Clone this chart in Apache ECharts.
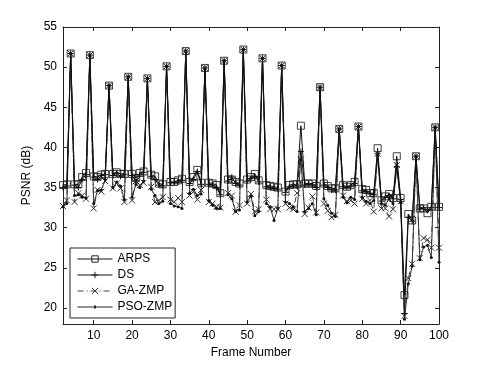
<!DOCTYPE html>
<html>
<head>
<meta charset="utf-8">
<script src="https://cdn.jsdelivr.net/npm/echarts@6/dist/echarts.min.js"></script>
<style>
  html, body { margin: 0; padding: 0; background: #fff; }
  #chart { width: 485px; height: 365px; }
</style>
</head>
<body>
<div id="chart"></div>
<script>
// frame numbers
const frames = [2, 3, 4, 5, 6, 7, 8, 9, 10, 11, 12, 13, 14, 15, 16, 17, 18, 19, 20,
  21, 22, 23, 24, 25, 26, 27, 28, 29, 30, 31, 32, 33, 34, 35, 36, 37, 38, 39, 40,
  41, 42, 43, 44, 45, 46, 47, 48, 49, 50, 51, 52, 53, 54, 55, 56, 57, 58, 59, 60,
  61, 62, 63, 64, 65, 66, 67, 68, 69, 70, 71, 72, 73, 74, 75, 76, 77, 78, 79, 80,
  81, 82, 83, 84, 85, 86, 87, 88, 89, 90, 91, 92, 93, 94, 95, 96, 97, 98, 99, 100]

const arps = [35.3, 35.4, 51.7, 35.4, 35.4, 36.3, 36.8, 51.5, 36.4, 36.3, 36.6, 36.7, 47.7, 36.7, 36.9, 36.7, 36.7, 48.8, 36.7,
  36.2, 36.8, 37.0, 48.6, 36.6, 36.4, 35.5, 35.4, 50.1, 35.7, 35.7, 35.9, 36.1, 52.0, 35.7, 36.3, 37.2, 35.6, 49.9, 35.6,
  35.5, 35.3, 34.3, 50.8, 36.0, 36.0, 35.7, 35.5, 52.2, 36.0, 36.3, 36.7, 35.9, 51.1, 35.3, 35.2, 35.1, 35.0, 50.2, 34.5,
  35.3, 35.4, 35.4, 42.7, 35.5, 35.5, 35.5, 35.2, 47.5, 35.5, 35.2, 34.9, 34.9, 42.3, 35.3, 35.1, 35.3, 35.7, 42.6, 34.8,
  34.7, 34.3, 34.3, 39.9, 33.4, 33.9, 34.2, 33.7, 38.9, 33.7, 21.6, 31.7, 30.9, 38.9, 32.4, 32.4, 31.8, 32.6, 42.5, 32.6]

const ds = [35.0, 35.2, 51.7, 35.3, 35.0, 36.0, 36.6, 51.5, 36.3, 36.0, 36.5, 36.6, 47.7, 36.5, 36.8, 36.4, 36.6, 48.8, 36.5,
  35.9, 36.6, 36.9, 48.6, 36.4, 36.0, 35.3, 35.2, 50.1, 35.6, 35.6, 35.7, 35.9, 52.0, 35.5, 36.0, 37.0, 35.4, 49.9, 35.4,
  35.3, 35.0, 34.1, 50.8, 35.8, 36.3, 35.5, 35.3, 52.2, 35.8, 36.1, 36.4, 35.7, 51.1, 35.1, 35.0, 34.9, 34.8, 50.2, 34.4,
  35.1, 35.2, 35.2, 39.5, 35.3, 35.4, 35.3, 35.0, 47.5, 35.3, 35.0, 34.7, 34.7, 42.3, 35.1, 35.0, 35.1, 35.5, 42.6, 34.6,
  34.5, 34.2, 34.1, 39.2, 33.3, 33.8, 34.0, 33.6, 37.6, 33.5, 19.3, 31.3, 30.8, 38.9, 32.3, 32.5, 32.2, 32.5, 42.5, 32.5]

const gaZmp = [32.7, 33.4, 51.7, 33.2, 34.3, 34.0, 33.6, 51.5, 32.4, 34.7, 34.5, 35.8, 47.7, 34.9, 35.5, 34.9, 33.2, 48.8, 33.4,
  35.8, 35.3, 35.6, 48.6, 35.1, 33.2, 33.4, 33.8, 50.1, 33.5, 33.2, 33.7, 33.2, 52.0, 34.0, 34.5, 33.5, 34.7, 49.9, 33.2,
  33.0, 32.6, 32.5, 50.8, 34.3, 34.0, 32.0, 32.8, 52.2, 33.0, 34.2, 32.0, 32.3, 51.1, 33.5, 32.3, 32.3, 32.3, 50.2, 33.0,
  32.5, 32.3, 34.3, 38.5, 31.7, 32.5, 33.9, 31.9, 47.5, 33.0, 32.1, 31.3, 31.6, 42.3, 34.0, 33.3, 33.4, 33.0, 42.6, 33.6,
  33.0, 33.4, 32.0, 39.2, 32.4, 32.4, 31.4, 32.3, 37.8, 33.3, 19.0, 23.7, 25.5, 38.9, 26.2, 28.7, 28.5, 27.5, 42.5, 27.5]

const psoZmp = [32.6, 33.0, 51.7, 34.0, 34.1, 33.8, 33.7, 51.5, 33.0, 34.6, 34.7, 36.0, 47.7, 35.0, 35.7, 35.2, 33.5, 48.8, 33.8,
  35.4, 35.0, 35.8, 48.6, 34.8, 34.0, 33.0, 33.3, 50.1, 33.0, 32.7, 32.6, 32.4, 52.0, 34.3, 34.8, 34.0, 34.2, 49.9, 33.4,
  32.8, 32.4, 32.4, 50.8, 34.1, 33.6, 32.0, 32.2, 52.2, 33.2, 33.9, 31.5, 32.0, 51.1, 33.0, 32.6, 30.9, 32.4, 50.2, 33.2,
  33.0, 32.6, 32.0, 38.5, 32.0, 32.4, 33.0, 31.6, 47.5, 33.6, 32.8, 31.8, 31.4, 42.3, 33.8, 33.1, 33.8, 33.5, 42.6, 33.8,
  33.3, 33.0, 33.4, 39.0, 33.0, 32.8, 33.6, 33.0, 37.6, 33.1, 18.6, 23.0, 25.2, 38.9, 26.0, 27.6, 27.8, 26.3, 42.5, 25.7]

const xTicks = [10, 20, 30, 40, 50, 60, 70, 80, 90, 100]
const yTicks = [20, 25, 30, 35, 40, 45, 50, 55]

const FONT = 'Liberation Sans'

function pairs(ys) {
  return frames.map((f, i) => [f, ys[i]])
}

const chart = echarts.init(document.getElementById('chart'), null, { renderer: 'canvas' })

const axisLine = { show: true, lineStyle: { color: '#222', width: 1 } }

// legend icon for PSO-ZMP: thin line with a small dot
const psoIcon = 'path://M0,3.5L35,3.5L35,4.5L0,4.5Z M16.5,2.5L18.5,2.5L18.5,5.5L16.5,5.5Z'

chart.setOption({
  animation: false,
  backgroundColor: '#fff',
  grid: { left: 63, right: 46, top: 27, bottom: 41 },
  legend: {
    orient: 'vertical',
    left: 70,
    top: 248,
    padding: [5, 3, 5, 7],
    itemGap: 4,
    itemWidth: 35,
    itemHeight: 8,
    backgroundColor: '#fff',
    borderColor: '#222',
    borderWidth: 1,
    lineStyle: { width: 1 },
    itemStyle: { borderWidth: 0.9 },
    textStyle: { fontFamily: FONT, fontSize: 12, color: '#000' },
    data: ['ARPS', 'DS', 'GA-ZMP',
      { name: 'PSO-ZMP', icon: psoIcon, itemStyle: { color: '#222', borderWidth: 0 } }]
  },
  xAxis: [{
    type: 'value',
    min: 2,
    max: 100,
    name: 'Frame Number',
    nameLocation: 'middle',
    nameGap: 19,
    nameTextStyle: { fontFamily: FONT, fontSize: 12, color: '#000' },
    axisLine: axisLine,
    axisTick: { show: true, inside: true, length: 4, customValues: xTicks, lineStyle: { color: '#222' } },
    axisLabel: { customValues: xTicks, fontFamily: FONT, fontSize: 12, color: '#000', margin: 6 },
    splitLine: { show: false }
  }, {
    type: 'value',
    position: 'top',
    min: 2,
    max: 100,
    axisLine: axisLine,
    axisTick: { show: true, inside: true, length: 4, customValues: xTicks, lineStyle: { color: '#222' } },
    axisLabel: { show: false },
    splitLine: { show: false }
  }],
  yAxis: [{
    type: 'value',
    min: 18,
    max: 55,
    name: 'PSNR (dB)',
    nameLocation: 'middle',
    nameGap: 24,
    nameTextStyle: { fontFamily: FONT, fontSize: 12, color: '#000' },
    axisLine: axisLine,
    axisTick: { show: true, inside: true, length: 4, customValues: yTicks, lineStyle: { color: '#222' } },
    axisLabel: { customValues: yTicks, fontFamily: FONT, fontSize: 12, color: '#000', margin: 6 },
    splitLine: { show: false }
  }, {
    type: 'value',
    position: 'right',
    min: 18,
    max: 55,
    axisLine: axisLine,
    axisTick: { show: true, inside: true, length: 4, customValues: yTicks, lineStyle: { color: '#222' } },
    axisLabel: { show: false },
    splitLine: { show: false }
  }],
  series: [{
    name: 'ARPS',
    type: 'line',
    data: pairs(arps),
    symbol: 'rect',
    symbolSize: 7,
    showAllSymbol: true,
    lineStyle: { color: '#111', width: 1 },
    itemStyle: { color: 'rgba(255,255,255,0)', borderColor: '#111', borderWidth: 0.8 },
    z: 4
  }, {
    name: 'DS',
    type: 'line',
    data: pairs(ds),
    symbol: 'path://M0,5L10,5M5,0L5,10',
    symbolSize: 6,
    showAllSymbol: true,
    lineStyle: { color: '#111', width: 1 },
    itemStyle: { color: 'rgba(0,0,0,0)', borderColor: '#111', borderWidth: 1 },
    z: 3
  }, {
    name: 'GA-ZMP',
    type: 'line',
    data: pairs(gaZmp),
    symbol: 'path://M0,0L10,10M10,0L0,10',
    symbolSize: 6,
    showAllSymbol: true,
    lineStyle: { color: '#444', width: 1, type: [6, 3, 1, 3] },
    itemStyle: { color: 'rgba(0,0,0,0)', borderColor: '#333', borderWidth: 1 },
    z: 2
  }, {
    name: 'PSO-ZMP',
    type: 'line',
    data: pairs(psoZmp),
    symbol: 'circle',
    symbolSize: 3,
    showAllSymbol: true,
    lineStyle: { color: '#333', width: 1 },
    itemStyle: { color: '#111', borderWidth: 0 },
    z: 2
  }]
})
</script>
</body>
</html>
